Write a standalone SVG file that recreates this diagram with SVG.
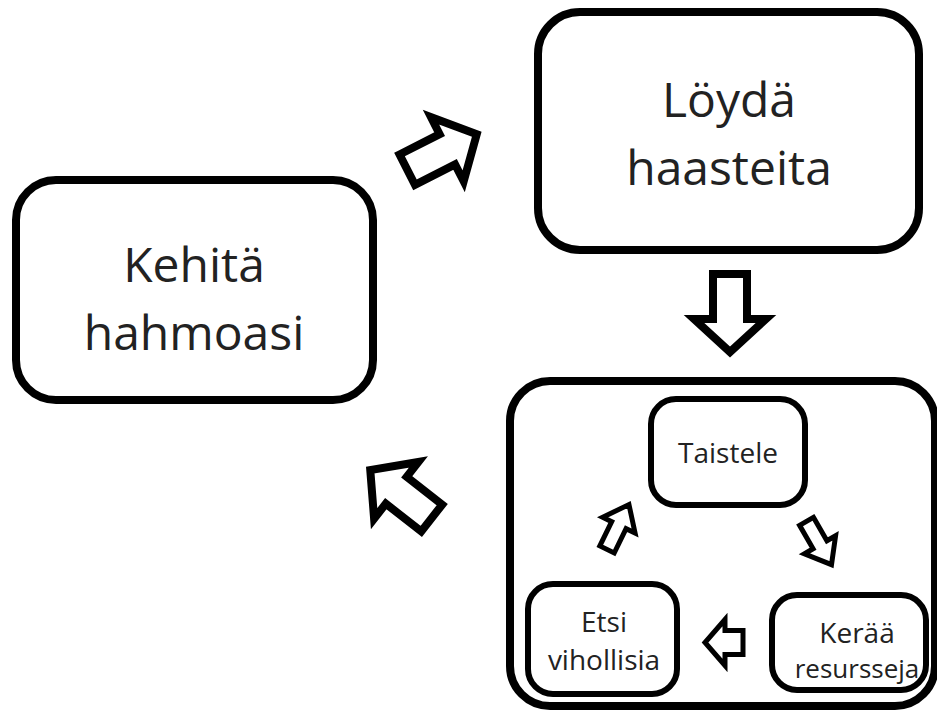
<svg xmlns="http://www.w3.org/2000/svg" width="937" height="718" viewBox="0 0 937 718">
<style>
.big{fill:#fff;stroke:#000;stroke-width:8}
.small{fill:#fff;stroke:#000;stroke-width:6}
.t{font-family:"Open Sans","Noto Sans",sans-serif;fill:#222;text-anchor:middle}
.tl{font-size:48px}
.ts{font-size:28px}
.tx{font-size:26px}
.ab{fill:#fff;stroke:#000;stroke-width:8;stroke-linejoin:miter;stroke-miterlimit:10}
.as{fill:#fff;stroke:#000;stroke-width:5;stroke-linejoin:miter;stroke-miterlimit:10}
</style>
<defs>
<polygon id="bigArrow" points="-39,-17 6,-17 6,-36 39,0 6,36 6,17 -39,17"/>
<polygon id="smallArrow" points="-25,-8 2,-8 2,-18 25,0 2,18 2,8 -25,8"/>
</defs>
<rect width="937" height="718" fill="#fff"/>
<g id="node-kehita">
<rect class="big" x="16" y="180" width="357" height="220" rx="40"/>
<text class="t tl" x="194" y="282">Kehitä</text>
<text class="t tl" x="194" y="350">hahmoasi</text>
</g>
<g id="node-loyda">
<rect class="big" x="538" y="12" width="381" height="238" rx="42"/>
<text class="t tl" x="729" y="117">Löydä</text>
<text class="t tl" x="729" y="185">haasteita</text>
</g>
<g id="node-cycle">
<rect class="big" x="510" y="381" width="425" height="325" rx="40"/>
</g>
<g id="node-taistele">
<rect class="small" x="651" y="399" width="154" height="106" rx="25"/>
<text class="t ts" x="728" y="463">Taistele</text>
</g>
<g id="node-etsi">
<rect class="small" x="528" y="584" width="149" height="110" rx="25"/>
<text class="t ts" x="604" y="632">Etsi</text>
<text class="t ts" x="604" y="670">vihollisia</text>
</g>
<g id="node-keraa">
<rect class="small" x="772" y="595" width="154" height="95" rx="25"/>
<text class="t ts" x="857" y="643">Kerää</text>
<text class="t tx" x="857" y="678">resursseja</text>
</g>
<g id="connectors">
<use href="#bigArrow" class="ab" transform="translate(442,152) rotate(-27)"/>
<use href="#bigArrow" class="ab" transform="translate(730,313) rotate(90)"/>
<use href="#bigArrow" class="ab" transform="translate(401,494) rotate(-142)"/>
<use href="#smallArrow" class="as" transform="translate(618,527) rotate(-64)"/>
<use href="#smallArrow" class="as" transform="translate(819,543) rotate(60)"/>
<polygon class="as" transform="translate(724,642.5) rotate(180)" points="-19,-12 -1,-12 -1,-23 19,0 -1,23 -1,12 -19,12"/>
</g>
</svg>
